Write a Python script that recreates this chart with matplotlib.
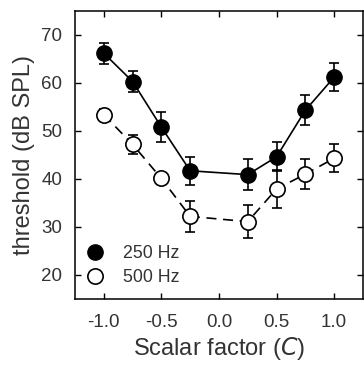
import matplotlib
matplotlib.use("Agg")
import matplotlib.pyplot as plt
from matplotlib.lines import Line2D

plt.rcParams['font.family'] = ['Liberation Sans', 'DejaVu Sans']

x = [-1.0, -0.75, -0.5, -0.25, 0.25, 0.5, 0.75, 1.0]
thr_250 = [66.2, 60.3, 50.8, 41.7, 40.9, 44.6, 54.3, 61.2]
err_250 = [2.2, 2.2, 3.2, 2.9, 3.2, 3.0, 3.1, 2.9]
thr_500 = [53.4, 47.2, 40.1, 32.2, 31.1, 37.9, 41.0, 44.3]
err_500 = [1.1, 2.0, 1.2, 3.3, 3.5, 3.9, 3.1, 2.9]
labels = ["250 Hz", "500 Hz"]

fig = plt.figure(figsize=(3.64, 3.65), dpi=100)
ax = fig.add_axes([0.206, 0.181, 0.791, 0.789])

txt = '#333333'
ax.errorbar(x, thr_250, yerr=err_250, fmt='o-', color='black', mfc='black', mec='black',
            ms=11, lw=1.2, elinewidth=1.2, capsize=3.6, capthick=1.2, zorder=3)
ax.errorbar(x, thr_500, yerr=err_500, fmt='o', ls=(0, (6, 4)), color='black', mfc='white', mec='black',
            ms=11, mew=1.2, lw=1.2, elinewidth=1.2, capsize=3.6, capthick=1.2, zorder=3)

ax.set_xlim(-1.25, 1.25)
ax.set_ylim(15, 75)
ax.set_xticks([-1.0, -0.5, 0.0, 0.5, 1.0])
ax.set_xticklabels(['-1.0', '-0.5', '0.0', '0.5', '1.0'])
ax.set_yticks([20, 30, 40, 50, 60, 70])
ax.tick_params(direction='in', top=True, right=True, length=4, width=1, labelsize=13.5,
               labelcolor=txt)
ax.tick_params(axis='x', pad=11)
ax.tick_params(axis='y', pad=9)
for s in ax.spines.values():
    s.set_linewidth(1.1)

ax.set_xlabel('Scalar factor ($\\it{C}$)', fontsize=17, color=txt, labelpad=3)
ax.set_ylabel('threshold (dB SPL)', fontsize=17, color=txt, labelpad=5)

handles = [Line2D([], [], ls='none', marker='o', ms=11, mfc='black', mec='black'),
           Line2D([], [], ls='none', marker='o', ms=11, mfc='white', mec='black', mew=1.2)]
ax.legend(handles, labels, loc='lower left', frameon=False, fontsize=12.8,
          handlelength=0.8, handletextpad=1.2, labelspacing=0.4, borderaxespad=0.3,
          labelcolor=txt)

fig.savefig('out.png', dpi=100)
